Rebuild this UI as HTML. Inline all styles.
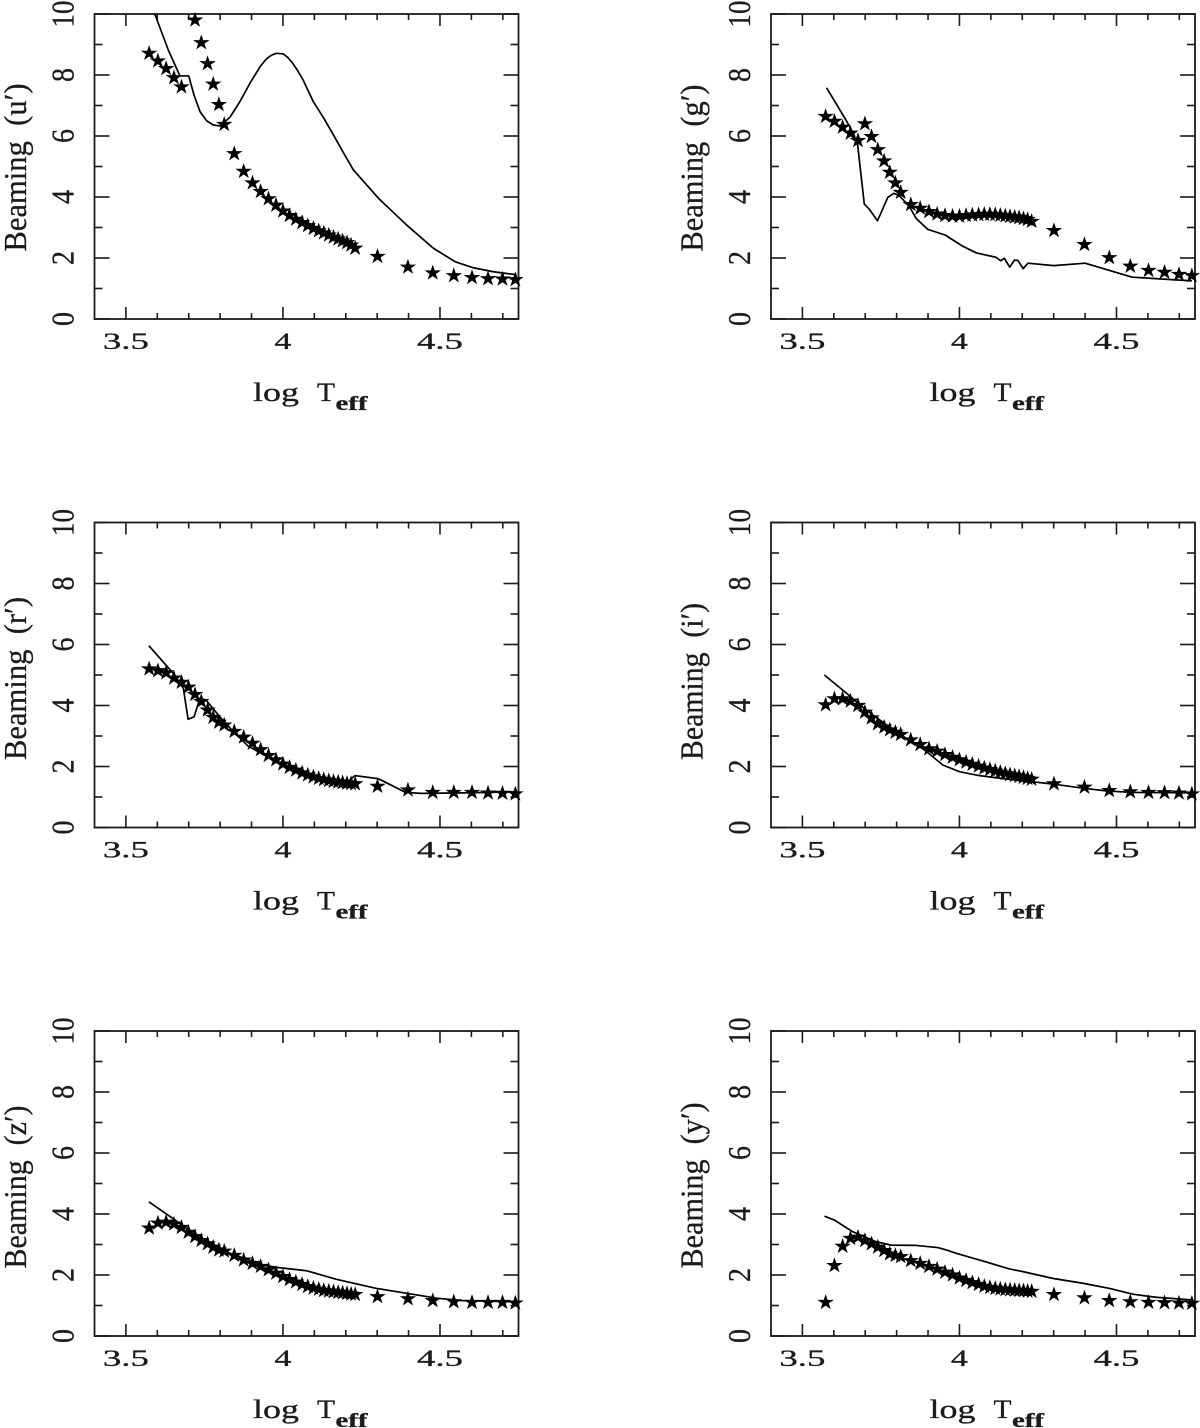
<!DOCTYPE html>
<html lang="en">
<head>
<meta charset="utf-8">
<title>Beaming factors versus effective temperature</title>
<style>
html,body{margin:0;padding:0;background:#fff;}
svg{display:block;}
text{font-family:"Liberation Serif",serif;fill:#1a1a1a;stroke:#1a1a1a;stroke-width:0.3;}
</style>
</head>
<body>
<svg id="figure" xmlns="http://www.w3.org/2000/svg" width="1200" height="1428" viewBox="0 0 1200 1428">
<defs><filter id="soft" x="0" y="0" width="100%" height="100%"><feGaussianBlur stdDeviation="0.35"/></filter></defs>
<rect x="0" y="0" width="1200" height="1428" fill="#fff"/>
<g id="root" filter="url(#soft)"></g>
</svg>
<script>
// Shared star grid (log Teff)
const logTeff = [3.574,3.602,3.628,3.653,3.677,3.699,3.72,3.74,3.76,3.778,3.796,3.813,3.845,3.875,3.903,3.929,3.954,3.978,4,4.021,4.041,4.061,4.079,4.097,4.114,4.13,4.146,4.161,4.176,4.19,4.204,4.217,4.23,4.301,4.398,4.477,4.544,4.602,4.653,4.699,4.74];

// Star series
const starsU = [8.73,8.48,8.23,7.93,7.63,null,9.82,9.08,8.39,7.72,7.05,6.4,5.44,4.86,4.48,4.2,3.96,3.75,3.56,3.41,3.29,3.18,3.08,2.99,2.91,2.84,2.77,2.70,2.64,2.58,2.52,2.44,2.34,2.07,1.72,1.53,1.44,1.38,1.34,1.33,1.31];
const starsG = [6.66,6.5,6.31,6.11,5.87,6.42,6.0,5.57,5.2,4.83,4.48,4.17,3.77,3.65,3.54,3.46,3.41,3.39,3.39,3.41,3.43,3.44,3.45,3.45,3.44,3.42,3.40,3.38,3.36,3.34,3.31,3.28,3.22,2.92,2.46,2.03,1.75,1.61,1.55,1.48,1.44];
const starsR = [5.22,5.16,5.09,4.92,4.78,4.62,4.38,4.15,3.87,3.63,3.47,3.38,3.17,2.98,2.78,2.57,2.38,2.24,2.1,1.99,1.9,1.81,1.74,1.68,1.63,1.59,1.56,1.53,1.51,1.49,1.47,1.46,1.45,1.37,1.25,1.17,1.17,1.17,1.15,1.14,1.12];
const starsI = [4.04,4.24,4.24,4.16,4.02,3.8,3.61,3.42,3.31,3.22,3.14,3.07,2.89,2.74,2.6,2.52,2.41,2.32,2.24,2.16,2.09,2.03,1.97,1.92,1.87,1.83,1.79,1.75,1.72,1.69,1.66,1.63,1.6,1.45,1.34,1.23,1.19,1.17,1.16,1.15,1.12];
const starsZ = [3.56,3.72,3.75,3.69,3.58,3.42,3.28,3.15,3.04,2.93,2.84,2.8,2.66,2.51,2.4,2.3,2.19,2.08,1.97,1.87,1.79,1.71,1.64,1.59,1.55,1.51,1.49,1.47,1.45,1.43,1.41,1.39,1.38,1.31,1.24,1.18,1.14,1.12,1.12,1.12,1.1];
const starsY = [1.12,2.33,2.96,3.22,3.26,3.15,3.04,2.93,2.82,2.71,2.66,2.62,2.49,2.4,2.3,2.21,2.11,2.02,1.92,1.84,1.77,1.71,1.65,1.61,1.58,1.56,1.54,1.53,1.52,1.51,1.5,1.49,1.48,1.38,1.27,1.18,1.14,1.12,1.11,1.1,1.09];

// Line series
const lineUx = [3.592,3.635,3.672,3.70,3.717,3.736,3.757,3.778,3.799,3.831,3.863,3.895,3.927,3.945,3.959,3.97,3.98,4.001,4.015,4.03,4.044,4.064,4.097,4.129,4.161,4.19,4.224,4.304,4.394,4.479,4.548,4.606,4.67,4.744];
const lineUy = [10,8.82,7.97,7.97,7.34,6.8,6.5,6.36,6.33,6.61,7.13,7.73,8.27,8.5,8.62,8.68,8.71,8.69,8.58,8.4,8.19,7.84,7.12,6.6,6.03,5.5,4.89,3.96,3.08,2.32,1.88,1.68,1.55,1.45];
const lineGx = [3.577,3.64,3.662,3.676,3.697,3.713,3.739,3.772,3.791,3.809,3.841,3.862,3.899,3.955,4.01,4.053,4.117,4.131,4.143,4.16,4.175,4.186,4.203,4.218,4.3,4.4,4.55,4.74];
const lineGy = [7.58,6.5,6.09,5.7,3.77,3.6,3.22,3.99,4.12,4.04,3.68,3.3,2.94,2.75,2.39,2.17,2.02,1.91,1.99,1.7,1.93,1.92,1.65,1.83,1.75,1.83,1.37,1.25];
const lineRx = [3.573,3.651,3.683,3.698,3.717,3.736,3.755,3.799,3.837,3.889,3.927,3.99,4.064,4.138,4.2,4.229,4.304,4.39,4.44,4.6,4.735];
const lineRy = [5.96,5.05,4.56,3.55,3.63,4.24,4.18,3.63,3.2,2.67,2.45,2.1,1.75,1.5,1.45,1.7,1.6,1.15,1.12,1.14,1.17];
const lineIx = [3.57,3.65,3.703,3.798,3.889,3.947,4.0,4.064,4.149,4.233,4.3,4.4,4.467,4.55,4.742];
const lineIy = [5.0,4.32,3.85,3.14,2.54,2.05,1.83,1.7,1.59,1.5,1.42,1.28,1.2,1.15,1.14];
const lineZx = [3.573,3.653,3.727,3.831,3.936,3.98,4.075,4.17,4.298,4.394,4.49,4.573,4.744];
const lineZy = [4.4,3.83,3.26,2.71,2.33,2.25,2.14,1.86,1.56,1.4,1.24,1.16,1.12];
const lineYx = [3.57,3.602,3.66,3.735,3.782,3.862,3.931,3.958,3.99,4.074,4.159,4.202,4.297,4.393,4.478,4.552,4.626,4.742];
const lineYy = [3.93,3.8,3.42,3.09,2.98,2.97,2.9,2.82,2.71,2.46,2.2,2.11,1.89,1.73,1.56,1.37,1.27,1.18];

// Tick values and labels
const xMajorTicks = [3.5,4,4.5];
const xTickLabels = ["3.5","4","4.5"];
const xMinorTicks = [3.6,3.7,3.8,3.9,4.1,4.2,4.3,4.4,4.6,4.7];
const yMajorTicks = [0,2,4,6,8,10];
const yTickLabels = ["0","2","4","6","8","10"];
const yMinorTicks = [1,3,5,7,9];

// Panel definitions
const bandNames = ["u","g","r","i","z","y"];
const bandLabels = ["Beaming\u00a0\u00a0(u\u2032)","Beaming\u00a0\u00a0(g\u2032)","Beaming\u00a0\u00a0(r\u2032)","Beaming\u00a0\u00a0(i\u2032)","Beaming\u00a0\u00a0(z\u2032)","Beaming\u00a0\u00a0(y\u2032)"];
const bandLabelLengths = [168,167,163,157,163,166];
const starSeries = [starsU,starsG,starsR,starsI,starsZ,starsY];
const lineXSeries = [lineUx,lineGx,lineRx,lineIx,lineZx,lineYx];
const lineYSeries = [lineUy,lineGy,lineRy,lineIy,lineZy,lineYy];

const NS = "http://www.w3.org/2000/svg";
const INK = "#1a1a1a";
const root = document.getElementById("root");
const columnLeft = [94.5, 771];
const rowBottom = [319, 827.5, 1336];
const plotW = 424, plotH = 305;
const xMin = 3.4, xMax = 4.75, yMin = 0, yMax = 10;

function make(tag, attrs, parent){
  const el = document.createElementNS(NS, tag);
  for (const k in attrs) el.setAttribute(k, attrs[k]);
  parent.appendChild(el);
  return el;
}
function xScale(left, v){ return left + (v - xMin) / (xMax - xMin) * plotW; }
function yScale(bottom, v){ return bottom - (v - yMin) / (yMax - yMin) * plotH; }
function starPoints(cx, cy){
  const rX = 8.7, rY = 8.3, pts = [];
  for (let i = 0; i < 10; i++){
    const a = -Math.PI / 2 + i * Math.PI / 5;
    const f = i % 2 ? 0.382 : 1;
    pts.push((cx + rX * f * Math.cos(a)).toFixed(2) + "," + (cy + 0.6 + rY * f * Math.sin(a)).toFixed(2));
  }
  return pts.join(" ");
}
function stretched(parent, str, x, y, size, length, anchor, weight){
  const t = make("text", {x:x, y:y, "font-size":size, "text-anchor":anchor, textLength:length, lengthAdjust:"spacingAndGlyphs"}, parent);
  if (weight) t.setAttribute("font-weight", weight);
  t.textContent = str;
  return t;
}

bandNames.forEach(function(band, p){
  const left = columnLeft[p % 2];
  const bottom = rowBottom[Math.floor(p / 2)];
  const right = left + plotW;
  const top = bottom - plotH;

  const g = make("g", {}, root);
  
  

  // Frame
  const frame = make("rect", {x:left, y:top, width:plotW, height:plotH, fill:"none", stroke:INK, "stroke-width":1.8}, g);
  
  

  // X ticks
  function xTick(v, len, kind){
    const x = xScale(left, v);
    const bt = make("line", {x1:x, x2:x, y1:bottom, y2:bottom - len, stroke:INK, "stroke-width":1.6}, g);
    
    
    const tt = make("line", {x1:x, x2:x, y1:top, y2:top + len, stroke:INK, "stroke-width":1.6}, g);
    
    
  }
  xMajorTicks.forEach(function(v){ xTick(v, 12, 'x-major'); });
  xMinorTicks.forEach(function(v){ xTick(v, 6, 'x-minor'); });

  // Y ticks
  function yTick(v, len, kind){
    const y = yScale(bottom, v);
    const lt = make("line", {x1:left, x2:left + len, y1:y, y2:y, stroke:INK, "stroke-width":1.6}, g);
    
    
    const rt = make("line", {x1:right, x2:right - len, y1:y, y2:y, stroke:INK, "stroke-width":1.6}, g);
    
    
  }
  yMajorTicks.forEach(function(v){ yTick(v, 15, 'y-major'); });
  yMinorTicks.forEach(function(v){ yTick(v, 8, 'y-minor'); });

  // X tick labels
  xMajorTicks.forEach(function(v, i){
    const s = xTickLabels[i];
    const t = stretched(g, s, xScale(left, v), bottom + 30, 23, s.length > 1 ? 46 : 17, "middle");
    
    
  });

  // Y tick labels (rotated)
  yMajorTicks.forEach(function(v, i){
    const s = yTickLabels[i];
    const y = yScale(bottom, v);
    const bx = left - 21;
    const t = stretched(g, s, bx, y, 32, s.length > 1 ? 27 : 14, "middle");
    t.setAttribute("transform", "rotate(-90 " + bx + " " + y + ")");
    
    
  });

  // Y axis title
  const ty = bottom - 67.5;
  const tx = left - 68.5;
  const yTitle = stretched(g, bandLabels[p], tx, ty, 32, bandLabelLengths[p], "start");
  yTitle.setAttribute("transform", "rotate(-90 " + tx + " " + ty + ")");
  
  

  // X axis title
  const xLog = stretched(g, "log", left + 158.5, bottom + 82, 26, 46, "start");
  
  
  const xT = stretched(g, "T", left + 222.5, bottom + 82, 26, 18, "start");
  
  
  const xEff = stretched(g, "eff", left + 241, bottom + 91, 20, 32, "start", "bold");
  
  

  // Model line
  const lx = lineXSeries[p], ly = lineYSeries[p];
  const pts = lx.map(function(v, i){ return xScale(left, v).toFixed(2) + "," + yScale(bottom, ly[i]).toFixed(2); }).join(" ");
  const line = make("polyline", {points:pts, fill:"none", stroke:"#000", "stroke-width":1.7, "stroke-linejoin":"round"}, g);
  
  

  // Star markers
  starSeries[p].forEach(function(v, i){
    if (v === null) return;
    const star = make("polygon", {points:starPoints(xScale(left, logTeff[i]), yScale(bottom, v)), fill:"#000"}, g);
    
    
  });
});
</script>
</body>
</html>
